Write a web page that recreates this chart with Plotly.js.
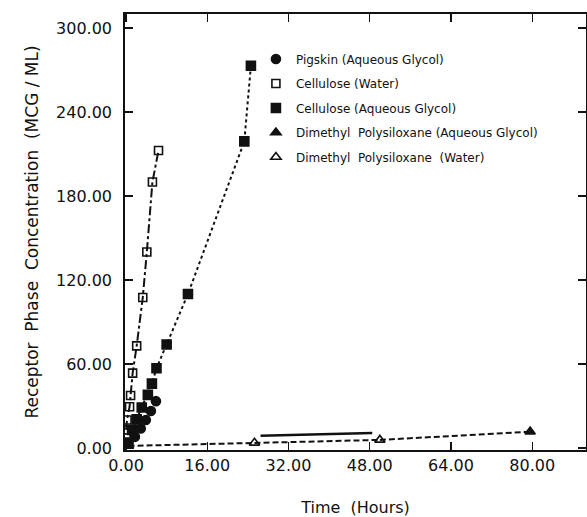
<!DOCTYPE html>
<html>
<head>
<meta charset="utf-8">
<script src="https://cdn.plot.ly/plotly-3.0.1.min.js"></script>
<style>html,body{margin:0;padding:0;background:#fff}#chart{width:587px;height:517px}</style>
</head>
<body>
<div id="chart"></div>
<script>
// Pigskin (Aqueous Glycol)
const pigX = [0.5, 1.75, 2.9, 3.9, 4.9, 5.9];
const pigY = [3.5, 8, 14, 20, 26.5, 33.5];
// Cellulose (Water)
const celWX = [0, 0.2, 0.7, 0.9, 1.3, 2.1, 3.3, 4.1, 5.2, 6.4];
const celWY = [13, 20, 29.5, 37.5, 53.5, 73, 107.5, 140, 190, 212.5];
// Cellulose (Aqueous Glycol)
const celGX = [0.4, 1.2, 2.1, 3.1, 4.3, 5.1, 6.0, 8.0, 12.2, 23.3, 24.6];
const celGY = [4, 13, 20.5, 29, 38, 46, 57, 74, 110, 219, 273];
// Dimethyl Polysiloxane (Aqueous Glycol)
const dpGX = [26.5, 48.5, 79.6];
const dpGY = [8.8, 10.8, 11.7];
// Dimethyl Polysiloxane (Water)
const dpWX = [0.5, 25.3, 50.0];
const dpWY = [1.5, 3.7, 5.8];

const xTicks = [0, 16, 32, 48, 64, 80];
const yTicks = [0, 60, 120, 180, 240, 300];
const names = ['Pigskin (Aqueous Glycol)', 'Cellulose (Water)', 'Cellulose (Aqueous Glycol)',
  'Dimethyl  Polysiloxane (Aqueous Glycol)', 'Dimethyl  Polysiloxane  (Water)'];

const K = '#111';
function lineTrace(x, y, dash, w) {
  return {x: x, y: y, mode: 'lines', line: {color: K, width: w, dash: dash}, showlegend: false, hoverinfo: 'skip'};
}
function markTrace(x, y, name, symbol, size, i) {
  return {x: x, y: y, name: name, mode: 'markers', legendgroup: 'g' + i,
    marker: {symbol: symbol, size: size, color: K, line: {color: K, width: 1.6}}};
}

const traces = [
  lineTrace(celWX, celWY, 'dashdot', 2),
  lineTrace(celGX, celGY, 'dot', 2),
  lineTrace(dpWX, dpWY, '6px,3px', 2),
  lineTrace(dpGX.slice(0, 2), dpGY.slice(0, 2), 'solid', 2.5),
  lineTrace([dpWX[dpWX.length - 1], dpGX[dpGX.length - 1]], [dpWY[dpWY.length - 1], dpGY[dpGY.length - 1]], '6px,3px', 2),
  markTrace(pigX, pigY, names[0], 'circle', 9, 0),
  markTrace(celWX, celWY, names[1], 'square-open', 8, 1),
  markTrace(celGX, celGY, names[2], 'square', 9, 2),
  markTrace(dpGX.slice(-1), dpGY.slice(-1), names[3], 'triangle-up', 9, 3),
  markTrace(dpWX, dpWY, names[4], 'triangle-up-open', 9, 4)
];

const fontFam = '"DejaVu Sans", sans-serif';
const layout = {
  width: 587, height: 517,
  margin: {l: 125, r: 1, t: 14, b: 67},
  paper_bgcolor: '#fff', plot_bgcolor: '#fff',
  font: {family: fontFam, color: K, size: 16},
  showlegend: true,
  legend: {x: 0.284, y: 0.93, xanchor: 'left', yanchor: 'top', bgcolor: 'rgba(0,0,0,0)',
    font: {size: 12, family: fontFam, color: K}, tracegroupgap: 5.5, itemwidth: 30},
  xaxis: {
    range: [-0.2, 90.6], tickvals: xTicks, ticktext: xTicks.map(v => v.toFixed(2)),
    ticks: 'inside', ticklen: 8, tickwidth: 1.2, tickcolor: K,
    showline: true, linecolor: K, linewidth: 1.6, mirror: 'ticks',
    showgrid: false, zeroline: false,
    tickfont: {size: 16},
    title: {text: 'Time  (Hours)', font: {size: 16}, standoff: 30}
  },
  yaxis: {
    range: [-1.4, 310], tickvals: yTicks, ticktext: yTicks.map(v => v.toFixed(2)),
    ticks: 'inside', ticklen: 8, tickwidth: 1.2, tickcolor: K,
    showline: true, linecolor: K, linewidth: 1.8, mirror: 'ticks',
    showgrid: false, zeroline: false, ticklabelstandoff: 8,
    tickfont: {size: 16},
    title: {text: 'Receptor  Phase  Concentration  (MCG / ML)', font: {size: 17}, standoff: 13}
  }
};
Plotly.newPlot('chart', traces, layout, {displayModeBar: false, staticPlot: true});
</script>
</body>
</html>
